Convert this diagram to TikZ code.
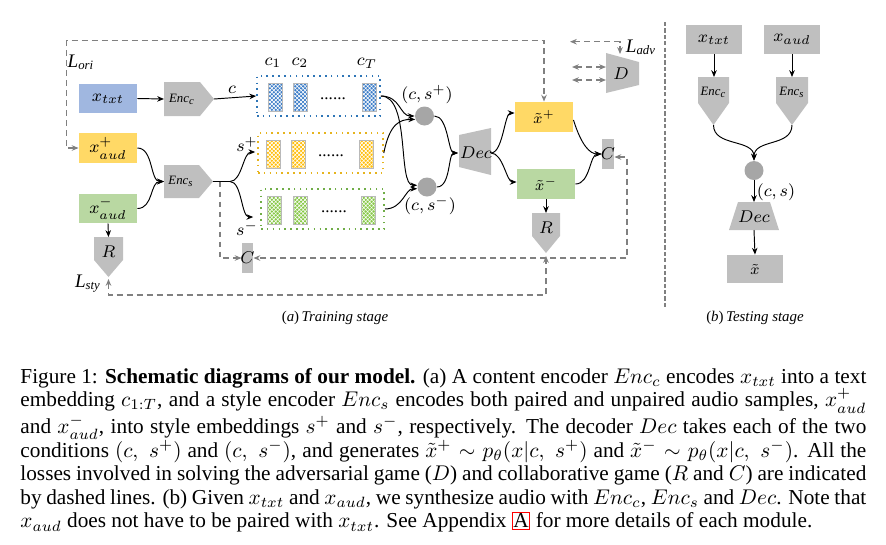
\documentclass[tikz,border=0pt]{standalone}
\usepackage[no-math]{fontspec}
\setmainfont{Liberation Serif}
\usetikzlibrary{arrows.meta,patterns,patterns.meta,calc}
\newlength\pxl
\setlength\pxl{0.47pt}
\newcommand{\itsub}[2]{\textit{#1}\textsubscript{\textit{#2}}}
\definecolor{cblue}{RGB}{160,183,224}
\definecolor{cyel}{RGB}{255,217,102}
\definecolor{cgrn}{RGB}{185,216,162}
\definecolor{sgray}{RGB}{191,191,191}
\definecolor{cgray}{RGB}{166,166,166}
\definecolor{dgray}{RGB}{128,128,128}
\definecolor{bblue}{RGB}{46,117,182}
\definecolor{byel}{RGB}{230,180,30}
\definecolor{bgrn}{RGB}{112,173,71}
\definecolor{barblue}{RGB}{60,125,200}
\definecolor{baryel}{RGB}{255,190,10}
\definecolor{bargrn}{RGB}{135,200,70}
\tikzset{
  >={Stealth[length=3.2pt,width=2.6pt]},
  arr/.style={->, line width=0.45pt, black},
  dsh/.style={draw=dgray, line width=0.65pt, dash pattern=on 2.8pt off 1.9pt},
  sz/.style 2 args={minimum width=#1\pxl, minimum height=#2\pxl},
  box/.style={inner sep=0pt, draw=none, font=\fontsize{8}{9}\selectfont},
  lbl/.style={inner sep=0pt, font=\fontsize{8}{9}\selectfont},
  lossl/.style={inner sep=0pt, font=\fontsize{9}{10}\selectfont},
  tiny/.style={inner sep=0pt, font=\fontsize{6}{7}\selectfont},
  xtl/.style={inner sep=0pt, font=\fontsize{7}{8}\selectfont},
  shp/.style={fill=sgray},
  emb/.style={dotted, line width=0.75pt, inner sep=0pt, fill=white},
  barline/.style={draw=gray!55, line width=0.3pt},
  hatchA/.style={pattern={Lines[angle=45,distance=1.3pt,line width=0.3pt]}, pattern color=white},
  hatchB/.style={pattern={Lines[angle=-45,distance=1.3pt,line width=0.3pt]}, pattern color=white},
  dot/.style={circle, fill=cgray, inner sep=0pt, minimum size=19\pxl},
}
\begin{document}
\begin{tikzpicture}[x=0.47pt,y=-0.47pt]
\useasboundingbox (0,0) rectangle (886,544);

% ---------- training stage ----------
\node[box, fill=cblue, sz={58}{29}] (xtxt) at (108,98.5) {$x_{txt}$};
\node[box, fill=cyel, sz={58}{30}] (xaudp) at (108,148) {$x^{+}_{aud}$};
\node[box, fill=cgrn, sz={58}{29}] (xaudm) at (108,208.5) {$x^{-}_{aud}$};

% Enc_c
\fill[shp] (164,82) -- (200,82) -- (214,99) -- (200,116) -- (164,116) -- cycle;
\node[tiny] (encc) at (182,99) {\itsub{Enc}{c}};
\coordinate (encc-in) at (164,99);
\coordinate (encc-out) at (214,99);
% Enc_s
\fill[shp] (164,165) -- (199,165) -- (213,181.5) -- (199,198) -- (164,198) -- cycle;
\node[tiny] (encs) at (181,181.5) {\itsub{Enc}{s}};
\coordinate (encs-in) at (164,181.5);
\coordinate (encs-out) at (213,181.5);
\coordinate (split) at (230,181.5);
% R
\fill[shp] (94,237) -- (123,237) -- (123,260) -- (108.5,277) -- (94,260) -- cycle;
\node[lbl] (rl) at (108.5,252) {$R$};
\coordinate (r-top) at (108.5,237);
\coordinate (r-tip) at (108.5,279);

% embedding boxes
\node[emb, draw=bblue, sz={123}{40}] (bbox) at (318.5,96) {};
\node[emb, draw=byel, sz={125}{40}] (ybox) at (320.5,153) {};
\node[emb, draw=bgrn, sz={123}{40}] (gbox) at (322.5,209) {};
\foreach \a in {268,293,362}{
  \fill[barblue] (\a,83) rectangle ++(14,28);
  \fill[hatchA] (\a,83) rectangle ++(14,28);
  \fill[hatchB] (\a,83) rectangle ++(14,28);
  \draw[barline] (\a,83) rectangle ++(14,28);}
\foreach \a in {266,291,359}{
  \fill[baryel] (\a,140) rectangle ++(14,28);
  \fill[hatchA] (\a,140) rectangle ++(14,28);
  \fill[hatchB] (\a,140) rectangle ++(14,28);
  \draw[barline] (\a,140) rectangle ++(14,28);}
\foreach \a in {267,293,361}{
  \fill[bargrn] (\a,196) rectangle ++(14,28);
  \fill[hatchA] (\a,196) rectangle ++(14,28);
  \fill[hatchB] (\a,196) rectangle ++(14,28);
  \draw[barline] (\a,196) rectangle ++(14,28);}
\node[lbl] (d1) at (333,99) {......};
\node[lbl] (d2) at (331,156) {......};
\node[lbl] (d3) at (334,212) {......};
\node[lbl] (c1) at (273,63) {$c_1$};
\node[lbl] (c2l) at (300,63) {$c_2$};
\node[lbl] (cT) at (367,63) {$c_T$};
\node[lbl] (cl) at (232,90) {$c$};
\node[lbl] (spl) at (247,144) {$s^{+}$};
\node[lbl] (sml) at (247,228) {$s^{-}$};

% circles
\node[dot] (cp) at (424.5,116) {};
\node[dot] (cm) at (427,187) {};
\node[lbl] (cpl) at (427,95) {$(c,s^{+})$};
\node[lbl] (cml) at (430,206) {$(c,s^{-})$};

% Dec
\fill[shp] (459,135) -- (491,128) -- (491,175) -- (459,167) -- cycle;
\node[lbl] (dec) at (476,153) {$Dec$};
\coordinate (dec-in) at (458,153);
\coordinate (dec-out) at (491,153);

\node[box, fill=cyel, sz={58}{30}] (xp) at (544,117) {};
\node[xtl] (xpl) at (544,117) {$\tilde{x}^{+}$};
\node[box, fill=cgrn, sz={58}{30}] (xm) at (546,184) {};
\node[xtl] (xml) at (546,184) {$\tilde{x}^{-}$};

% C boxes
\node[box, fill=sgray, sz={12}{30}] (c2) at (608,154) {};
\node[lbl] (c2t) at (608,154) {$C$};
\node[box, fill=sgray, sz={11}{30}] (csm) at (247.5,258) {};
\node[lbl] (csmt) at (247.5,258) {$C$};

% R2
\fill[shp] (532,213) -- (560,213) -- (560,236) -- (546,253) -- (532,236) -- cycle;
\node[lbl] (r2l) at (546,228) {$R$};
\coordinate (r2-top) at (546,213);
\coordinate (r2-tip) at (546,256);

% D
\fill[shp] (606,53) -- (639,62) -- (639,85) -- (606,93) -- cycle;
\node[lbl] (dl) at (621,74) {$D$};
\coordinate (d-top) at (620,54);

% loss labels
\node[lossl] (lori) at (81,62) {\itsub{L}{ori}};
\node[lossl] (lsty) at (88,284) {\itsub{L}{sty}};
\node[lossl] (ladv) at (641,47) {\itsub{L}{adv}};

% solid connectors
\draw[arr] (xtxt.east) -- (encc-in);
\draw[arr] (encc-out) -- (bbox.west);
\draw[arr] (xaudp.east) .. controls +(16,0) and +(-14,0) .. (encs-in);
\draw[arr] (xaudm.east) .. controls +(16,0) and +(-14,0) .. (encs-in);
\draw[line width=0.45pt] (encs-out) -- (split);
\draw[arr] (split) .. controls +(12,0) and +(-12,0) .. ($(ybox.west)+(-2,-1)$);
\draw[arr] (split) .. controls +(12,0) and +(-12,0) .. ($(gbox.west)+(-7,8)$);
\draw[arr] (bbox.east) .. controls +(20,0) and +(-15,0) .. (cp.180);
\draw[arr] (bbox.east) .. controls +(30,0) and +(-20,0) .. (cm.170);
\draw[arr] (ybox.east) .. controls +(6,-30) and +(-15,0) .. (cp.200);
\draw[arr] (gbox.east) .. controls +(18,0) and +(-12,0) .. (cm.190);
\draw[arr] (cp.east) .. controls +(14,0) and +(-10,0) .. (dec-in);
\draw[arr] (cm.east) .. controls +(14,0) and +(-10,0) .. (dec-in);
\draw[arr] (dec-out) .. controls +(12,0) and +(-10,0) .. ($(xp.west)+(0,-4)$);
\draw[arr] (dec-out) .. controls +(12,0) and +(-10,0) .. ($(xm.west)+(0,-2)$);
\draw[arr] ($(xp.east)+(0,3)$) .. controls +(8,25) and +(-12,0) .. (c2.west);
\draw[arr] (xm.east) .. controls +(15,0) and +(-12,0) .. (c2.west);
\draw[arr] (xm.south) -- (r2-top);
\draw[arr] (xaudm.south) -- (r-top);

% dashed loss connectors
\coordinate (ori-a) at (66.7,148);
\coordinate (ori-b) at (66.7,40.7);
\coordinate (ori-c) at (544,40.7);
\draw[dsh,<->] (xaudp.west) -- (ori-a) -- (ori-b) -- (ori-c) -- (xp.north);
\coordinate (cl-a) at (220,181.5);
\coordinate (cl-b) at (220,258);
\draw[dsh,->] (cl-a) -- (cl-b) -- (csm.west);
\coordinate (cr-a) at (627,157);
\coordinate (cr-b) at (627,258);
\draw[dsh,<->] ($(c2.east)+(0,3)$) -- (cr-a) -- (cr-b) -- (csm.east);
\coordinate (sty-a) at (108.5,295);
\coordinate (sty-b) at (546,295);
\draw[dsh,<->] (r-tip) -- (sty-a) -- (sty-b) -- (r2-tip);
\coordinate (adv-l) at (570,41.7);
\coordinate (adv-m) at (620,41.7);
\draw[dsh,<->] (adv-l) -- (adv-m) -- (d-top);
\coordinate (da1) at (572,67);
\coordinate (db1) at (606,67);
\coordinate (da2) at (572,80);
\coordinate (db2) at (606,80);
\draw[dsh,<->] (da1) -- (db1);
\draw[dsh,<->] (da2) -- (db2);

% separator
\coordinate (sep-a) at (665,22);
\coordinate (sep-b) at (665,307);
\draw[draw=dgray, line width=0.9pt, dash pattern=on 2pt off 1pt] (sep-a) -- (sep-b);

% ---------- testing stage ----------
\node[box, fill=sgray, sz={56}{29}] (ttxt) at (714,39.5) {$x_{txt}$};
\node[box, fill=sgray, sz={56}{29}] (taud) at (792,39.5) {$x_{aud}$};
\fill[shp] (698,77) -- (729,77) -- (729,103) -- (713.5,125) -- (698,103) -- cycle;
\node[tiny] (tencc) at (713.5,92) {\itsub{Enc}{c}};
\coordinate (tencc-top) at (714,77);
\coordinate (tencc-tip) at (713.5,125);
\fill[shp] (776,77) -- (808,77) -- (808,103) -- (792,125) -- (776,103) -- cycle;
\node[tiny] (tencs) at (792,92) {\itsub{Enc}{s}};
\coordinate (tencs-top) at (792,77);
\coordinate (tencs-tip) at (792,125);
\node[dot] (ct) at (754,170.5) {};
\node[lbl] (ctl) at (776,192) {$(c,s)$};
\fill[shp] (738,202) -- (770,202) -- (779,230) -- (729,230) -- cycle;
\node[lbl] (tdec) at (754,217) {$Dec$};
\coordinate (tdec-top) at (754,202);
\coordinate (tdec-bot) at (754,230);
\node[box, fill=sgray, sz={56}{28}] (xt) at (755,269) {};
\node[xtl] (xtt) at (755,269) {$\tilde{x}$};

\draw[arr] (ttxt.south) -- (tencc-top);
\draw[arr] (taud.south) -- (tencs-top);
\draw[arr] (tencc-tip) .. controls +(0,22) and +(0,-22) .. (ct.north);
\draw[arr] (tencs-tip) .. controls +(0,22) and +(0,-22) .. (ct.north);
\draw[arr] (ct.south) -- (tdec-top);
\draw[arr] (tdec-bot) -- (xt.north);

% stage labels
\node[xtl] (tra) at (335,318) {(\textit{a})\,\textit{Training stage}};
\node[xtl] (tes) at (755,318) {(\textit{b})\,\textit{Testing stage}};

% ---------- caption ----------
\node[anchor=base west, inner sep=0pt] (cap) at (20,383) {\parbox[t]{846\pxl}{\fontsize{10}{11.1}\selectfont
Figure 1: \textbf{Schematic diagrams of our model.} (a) A content encoder $Enc_c$ encodes $x_{txt}$ into a text\linebreak
embedding $c_{1:T}$, and a style encoder $Enc_s$ encodes both paired and unpaired audio samples, $x^{+}_{aud}$\linebreak
and $x^{-}_{aud}$, into style embeddings $s^{+}$ and $s^{-}$, respectively. The decoder $Dec$ takes each of the two\linebreak
conditions $(c,\;s^{+})$ and $(c,\;s^{-})$, and generates $\tilde{x}^{+}\sim p_\theta(x|c,\;s^{+})$ and $\tilde{x}^{-}\sim p_\theta(x|c,\;s^{-})$. All the\linebreak
losses involved in solving the adversarial game ($D$) and collaborative game ($R$ and $C$) are indicated\linebreak
by dashed lines. (b) Given $x_{txt}$ and $x_{aud}$, we synthesize audio with $Enc_c$, $Enc_s$ and $Dec$. Note that\linebreak
$x_{aud}$ does not have to be paired with $x_{txt}$. See Appendix {\setlength\fboxsep{0.3pt}\setlength\fboxrule{0.5pt}\fcolorbox{red}{white}{A}} for more details of each module.}};
\end{tikzpicture}
\end{document}
